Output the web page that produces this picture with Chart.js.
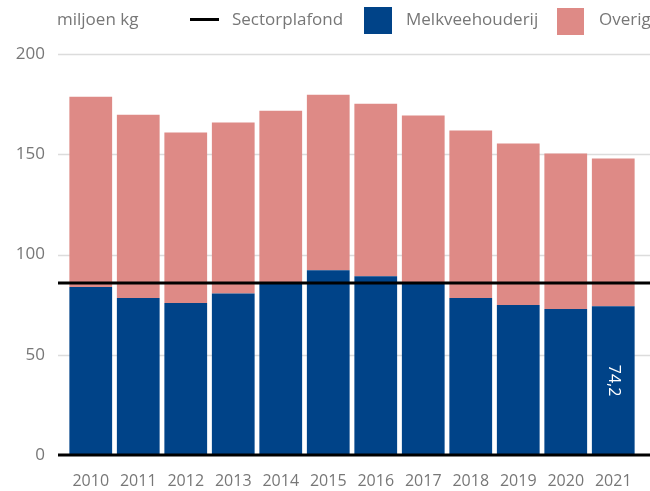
<!DOCTYPE html>
<html>
<head>
<meta charset="utf-8">
<style>
  body { margin: 0; background: #fff; font-family: "Open Sans", sans-serif; }
  #wrap { position: relative; width: 650px; height: 491px; overflow: hidden; }
  #wrap canvas { position: absolute; left: 0; top: 0; }
  .lg { position: absolute; top: 8px; font-size: 17px; line-height: 22px; color: #777; white-space: nowrap; }
  .sw { position: absolute; }
</style>
</head>
<body>
<div id="wrap">
  <canvas id="myChart" width="650" height="491"></canvas>
  <span class="lg" style="left:57px">miljoen kg</span>
  <span class="sw" style="left:190px;top:18px;width:29px;height:3px;background:#000"></span>
  <span class="lg" style="left:232px">Sectorplafond</span>
  <span class="sw" style="left:364px;top:7px;width:28px;height:27px;background:#004388"></span>
  <span class="lg" style="left:406px">Melkveehouderij</span>
  <span class="sw" style="left:557px;top:8px;width:27px;height:27px;background:#de8a86"></span>
  <span class="lg" style="left:599px">Overig</span>
</div>

<script src="https://cdn.jsdelivr.net/npm/chart.js/dist/chart.umd.min.js"></script>
<script>
// data (miljoen kg fosfaat)
const years = ['2010', '2011', '2012', '2013', '2014', '2015', '2016', '2017', '2018', '2019', '2020', '2021'];
const melkvee = [83.8, 78.3, 75.8, 80.5, 86.0, 92.1, 89.2, 85.5, 78.3, 74.8, 72.8, 74.2];
const overig = [94.9, 91.4, 85.0, 85.3, 85.7, 87.6, 86.0, 83.8, 83.5, 80.5, 77.6, 73.7];
const plafond = [85.8];
const yTicks = [0, 50, 100, 150, 200];
const labelIndex = [11]; // only the last bar gets a value label

// draws grid, sector line, zero line and the rotated value label
const extras = {
  id: 'extras',
  beforeDatasetsDraw(chart) {
    const ctx = chart.ctx, y = chart.scales.y, area = chart.chartArea;
    ctx.save();
    ctx.strokeStyle = '#dcdcdc';
    ctx.lineWidth = 1.5;
    yTicks.forEach(v => {
      if (v === 0) return;
      const py = Math.round(y.getPixelForValue(v)) + 0.5;
      ctx.beginPath();
      ctx.moveTo(area.left - 9, py);
      ctx.lineTo(chart.width, py);
      ctx.stroke();
    });
    ctx.restore();
  },
  afterDatasetsDraw(chart) {
    const ctx = chart.ctx, y = chart.scales.y, area = chart.chartArea;
    ctx.save();
    ctx.strokeStyle = '#000';
    ctx.lineWidth = 3;
    [plafond[0], 0].forEach(v => {
      const py = y.getPixelForValue(v);
      ctx.beginPath();
      ctx.moveTo(area.left - 9, py);
      ctx.lineTo(chart.width, py);
      ctx.stroke();
    });
    const meta = chart.getDatasetMeta(0);
    labelIndex.forEach(i => {
      const bar = meta.data[i];
      const txt = String(melkvee[i]).replace('.', ',');
      ctx.translate(bar.x, (bar.y + bar.base) / 2);
      ctx.rotate(Math.PI / 2);
      ctx.fillStyle = '#fff';
      ctx.font = '16px "Open Sans"';
      ctx.textAlign = 'center';
      ctx.textBaseline = 'middle';
      ctx.fillText(txt, 0, 0);
    });
    ctx.restore();
  }
};

const config = {
  type: 'bar',
  data: {
    labels: years,
    datasets: [
      { label: 'Melkveehouderij', data: melkvee, backgroundColor: '#004388', borderWidth: 0 },
      { label: 'Overig', data: overig, backgroundColor: '#de8a86', borderWidth: 0 }
    ]
  },
  options: {
    responsive: false,
    animation: false,
    layout: { padding: { top: 54, right: 13, bottom: 0, left: 0 } },
    datasets: { bar: { categoryPercentage: 1, barPercentage: 0.9 } },
    plugins: { legend: { display: false }, tooltip: { enabled: false } },
    scales: {
      x: {
        stacked: true,
        afterFit(scale) { scale.height = 36; },
        grid: { display: false, drawTicks: false },
        border: { display: false },
        ticks: { color: '#777', font: { family: 'Open Sans', size: 16 }, padding: 17, maxRotation: 0, autoSkip: false }
      },
      y: {
        stacked: true,
        min: 0,
        max: 200,
        afterFit(scale) { scale.width = 67; },
        afterBuildTicks(scale) { scale.ticks = yTicks.map(v => ({ value: v })); },
        grid: { display: false, drawTicks: false },
        border: { display: false },
        ticks: { color: '#777', font: { family: 'Open Sans', size: 17 }, padding: 22 }
      }
    }
  },
  plugins: [extras]
};

const myChart = new Chart(document.getElementById('myChart'), config);
</script>
</body>
</html>
